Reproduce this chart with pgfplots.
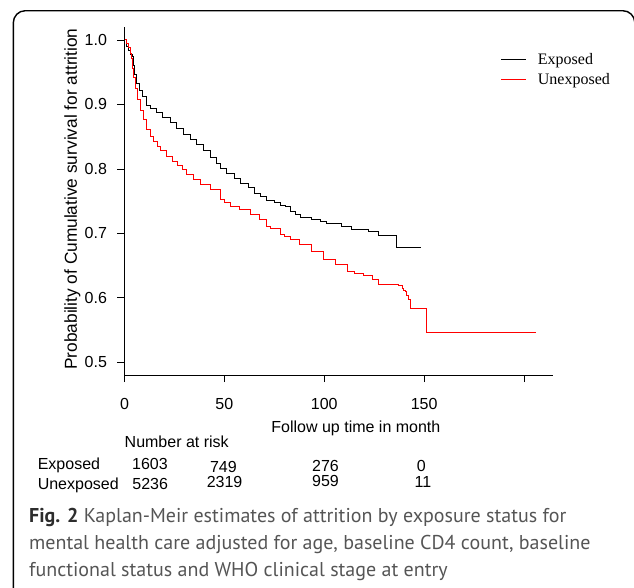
\documentclass[border=0pt]{standalone}
\usepackage{fontspec}
\setmainfont{Liberation Sans}
\newfontfamily\legfont{Liberation Serif}
\newfontfamily\capfont{PT Sans}
\usepackage{pgfplots}
\pgfplotsset{compat=1.18}
\definecolor{capgray}{RGB}{85,85,85}
\definecolor{figdark}{RGB}{45,45,45}
\definecolor{kmred}{RGB}{255,0,0}
\newcommand{\lab}{\fontsize{16bp}{19bp}\selectfont}

\begin{document}
\begin{tikzpicture}
\useasboundingbox (0,0) rectangle (634bp,-588bp);
\begin{scope}
\clip (0,0) rectangle (634bp,-588bp);
\draw[line width=1.4bp, rounded corners=12bp] (13.3bp,-600bp) -- (13.3bp,-10.7bp) -- (634.8bp,-10.7bp) -- (634.8bp,-600bp);
\end{scope}
\begin{axis}[
  at={(124.5bp,-375bp)}, anchor=south west, scale only axis,
  width=428.5bp, height=348.3bp,
  xmin=0, xmax=214.5, ymin=0.4803, ymax=1.0206,
  axis lines=left, axis line style={-, line width=0.8bp},
  tick align=outside, major tick length=7bp,
  tick style={black, line width=0.8bp},
  xtick={0,50,100,150,200}, xticklabels={0,50,100,150,{}},
  ytick={0.5,0.6,0.7,0.8,0.9,1.0}, yticklabels={0.5,0.6,0.7,0.8,0.9,1.0},
  /pgf/number format/assume math mode=true,
  ticklabel style={font=\lab},
  yticklabel style={xshift=-7bp},
  xticklabel style={yshift=-13bp},
  xlabel={Follow up time in month},
  ylabel={Probability of Cumulative survival for attrition},
  xlabel style={font=\lab, at={(axis description cs:0.54,-0.152)}, anchor=center},
  ylabel style={font=\fontsize{17.3bp}{20bp}\selectfont, at={(axis description cs:-0.1214,0.505)}, anchor=center},
  legend style={draw=none, fill=none, at={(axis description cs:0.878,0.93)}, anchor=north west,
    font=\legfont\fontsize{16bp}{19bp}\selectfont, inner sep=0bp, row sep=3.5bp,
    nodes={inner sep=2bp}},
  legend cell align=left,
  legend image code/.code={\draw[#1] (0bp,0bp) -- (25bp,0bp); \path (34bp,0bp);},
]
\addplot[black, line width=1bp, const plot] coordinates {
(0,1.0) (1,0.99) (2,0.984) (3,0.978) (4,0.974) (4.5,0.96) (5,0.946) (6,0.932)
(7.5,0.922) (9,0.912) (11,0.899) (13,0.893) (16,0.887) (19,0.88) (23,0.872)
(26,0.863) (29.5,0.854) (33,0.846) (36,0.838) (39.5,0.829) (43,0.818) (46,0.809)
(48,0.801) (51,0.793) (55,0.785) (58,0.778) (62,0.771) (65,0.762) (68,0.757)
(71,0.751) (75,0.748) (78,0.744) (80.5,0.741) (83,0.734) (85.5,0.729) (88,0.724)
(93.5,0.722) (98,0.718) (101,0.715) (108.5,0.711) (113.5,0.706) (122,0.703)
(127,0.696) (136.2,0.678) (148.2,0.678)
};
\addlegendentry{Exposed}
\addplot[kmred, line width=1bp, const plot] coordinates {
(0,1.0) (1,0.995) (2,0.988) (2.8,0.979) (3.6,0.972) (4,0.956) (4.4,0.942)
(5.3,0.925) (6.3,0.908) (7.8,0.891) (9.4,0.877) (11.1,0.861) (13,0.85)
(14.5,0.842) (16.5,0.835) (18,0.828) (21,0.819) (24,0.812) (26.5,0.806)
(29,0.799) (31,0.791) (34.5,0.784) (38,0.776) (43,0.768) (48,0.752) (50,0.748)
(53,0.742) (57.5,0.737) (63,0.729) (67.5,0.722) (71,0.711) (73,0.707) (78,0.699)
(80,0.695) (83,0.691) (87.4,0.682) (93.5,0.672) (99.6,0.659) (105.6,0.651)
(111.8,0.641) (115,0.637) (119.8,0.635) (124,0.628) (127,0.621) (137,0.619)
(139,0.615) (139.5,0.612) (140.7,0.6095) (141.2,0.604) (142,0.597) (143.2,0.584)
(151.2,0.5466) (206,0.5466)
};
\addlegendentry{Unexposed}
\end{axis}
% number at risk
\node[anchor=west, font=\lab, inner sep=0] at (124.5bp,-441.7bp) {Number at risk};
\node[anchor=west, font=\lab, inner sep=0] at (37.6bp,-465.7bp) {Exposed};
\node[anchor=west, font=\lab, inner sep=0] at (37.6bp,-485bp) {Unexposed};
\node[font=\lab, inner sep=0] at (150bp,-464.3bp) {1603};
\node[font=\lab, inner sep=0] at (150.2bp,-484.3bp) {5236};
\node[font=\lab, inner sep=0] at (223.4bp,-466.5bp) {749};
\node[font=\lab, inner sep=0] at (224.6bp,-481.8bp) {2319};
\node[font=\lab, inner sep=0] at (325.5bp,-466bp) {276};
\node[font=\lab, inner sep=0] at (325.5bp,-481.2bp) {959};
\node[font=\lab, inner sep=0] at (421.3bp,-466.2bp) {0};
\node[font=\lab, inner sep=0] at (423bp,-481.6bp) {11};
% caption
\begin{scope}[every node/.style={anchor=base west, inner sep=0, font=\capfont\fontsize{20bp}{24bp}\selectfont, text=capgray}]
\node at (29bp,-522bp) {{\color{figdark}\bfseries Fig. 2} Kaplan-Meir estimates of attrition by exposure status for};
\node at (29bp,-549bp) {mental health care adjusted for age, baseline CD4 count, baseline};
\node at (29bp,-576bp) {functional status and WHO clinical stage at entry};
\end{scope}
\end{tikzpicture}
\end{document}
